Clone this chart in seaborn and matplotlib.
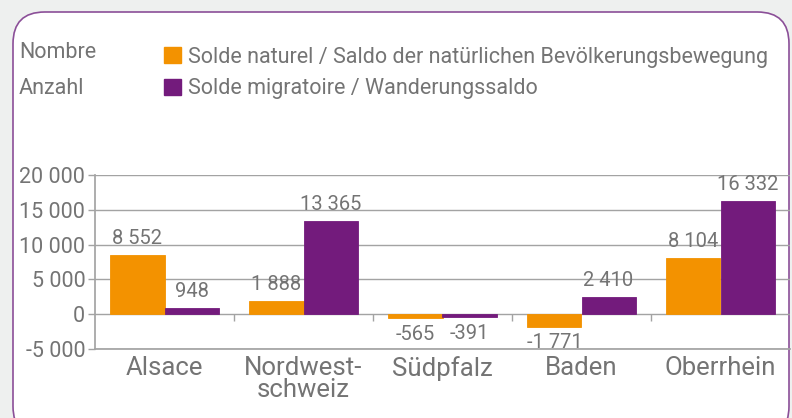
import matplotlib
matplotlib.use("Agg")
import matplotlib.pyplot as plt
from matplotlib.patches import FancyBboxPatch
import pandas as pd
import seaborn as sns

regions = ["Alsace", "Nordwest-\nschweiz", "Südpfalz", "Baden", "Oberrhein"]
series_names = [
    "Solde naturel / Saldo der natürlichen Bevölkerungsbewegung",
    "Solde migratoire / Wanderungssaldo",
]
solde_naturel = [8552, 1888, -565, -1771, 8104]
solde_migratoire = [948, 13365, -391, 2410, 16332]
y_ticks = [-5000, 0, 5000, 10000, 15000, 20000]

ORANGE = "#f39200"
PURPLE = "#731b7c"
TEXT = "#747474"
GRID = "#a3a3a3"

df = pd.DataFrame({
    "region": regions * 2,
    "serie": [series_names[0]] * 5 + [series_names[1]] * 5,
    "value": solde_naturel + solde_migratoire,
})

sns.set_theme(style="white")
plt.rcParams["font.family"] = ["Roboto", "DejaVu Sans"]

fig = plt.figure(figsize=(7.92, 4.18), dpi=100)
fig.patch.set_facecolor("#eef0ef")

# rounded white panel with purple border
box = FancyBboxPatch((13 / 792, -20 / 418), 776 / 792, 426 / 418,
                     boxstyle="round,pad=0,rounding_size=0.04",
                     transform=fig.transFigure, facecolor="white",
                     edgecolor="#8b4f98", linewidth=1.2, zorder=-10,
                     mutation_aspect=792 / 418)
fig.patches.append(box)

ax = fig.add_axes([95 / 792, (418 - 349) / 418, 695 / 792, 174 / 418])
ax.set_facecolor("none")
ax.set_zorder(1)

sns.barplot(data=df, x="region", y="value", hue="serie",
            palette=[ORANGE, PURPLE], width=0.78, gap=0,
            saturation=1, ax=ax, legend=False, zorder=3)

# no white seam between neighbouring bars
for p in ax.patches:
    p.set_edgecolor(p.get_facecolor())
    p.set_linewidth(0.6)

for cont in ax.containers:
    ax.bar_label(cont, labels=[f"{int(v):,}".replace(",", " ") for v in cont.datavalues],
                 padding=5, fontsize=14.5, color=TEXT)

ax.set_ylim(-5000, 20000)
ax.set_xlim(-0.5, 4.5)
ax.set_yticks(y_ticks)
ax.set_yticklabels([f"{v:,}".replace(",", " ") for v in y_ticks])
ax.yaxis.grid(True, color=GRID, linewidth=1)
ax.set_axisbelow(True)
ax.set_xlabel("")
ax.set_ylabel("")

for side in ("top", "right"):
    ax.spines[side].set_visible(False)
ax.spines["left"].set_color(GRID)
ax.spines["bottom"].set_color(GRID)

ax.tick_params(axis="y", colors=TEXT, labelsize=15.5, length=5, width=1,
               color=GRID, pad=2, left=True)
ax.tick_params(axis="x", colors=TEXT, labelsize=18.5, length=0, pad=5)
for lab in ax.get_xticklabels():
    lab.set_linespacing(0.9)

# small tick marks between groups on the zero line
sec = ax.secondary_xaxis(0.2)
sec.set_xticks([0.5, 1.5, 2.5, 3.5])
sec.set_xticklabels([])
sec.tick_params(length=5, width=1, color=GRID, direction="out")
sec.spines["bottom"].set_visible(False)

# legend
fig.text(19 / 792, 1 - 53 / 418, "Nombre", color=TEXT, fontsize=15.5,
         va="center", ha="left")
fig.text(19 / 792, 1 - 88 / 418, "Anzahl", color=TEXT, fontsize=15.5,
         va="center", ha="left")
handles = [plt.Rectangle((0, 0), 1, 1, color=c) for c in (ORANGE, PURPLE)]
leg = fig.legend(handles, series_names, loc="upper left",
                 bbox_to_anchor=(155 / 792, 1 - 38 / 418), frameon=False,
                 fontsize=15.5, handlelength=0.8, handleheight=0.8,
                 handletextpad=0.35, labelspacing=0.5, borderaxespad=0)
for t in leg.get_texts():
    t.set_color(TEXT)

fig.savefig("out.png", dpi=100, facecolor=fig.get_facecolor())
